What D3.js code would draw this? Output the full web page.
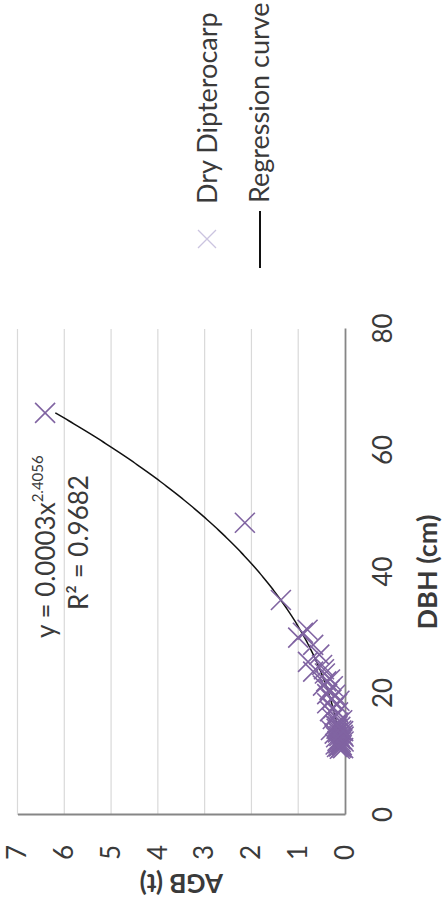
<!DOCTYPE html>
<html>
<head>
<meta charset="utf-8">
<script src="https://cdn.jsdelivr.net/npm/d3@7/dist/d3.min.js"></script>
<style>
  html, body { margin: 0; padding: 0; background: #ffffff; }
  svg { display: block; }
  text { font-family: Lato, "Open Sans", sans-serif; fill: #3a3a3a; }
</style>
</head>
<body>
<svg id="chart" width="445" height="910"></svg>
<script>
// Diameter at breast height (cm) of sampled trees
const dbh = [66.2, 48.1, 35.4, 30.0, 29.2, 30.5, 28.0, 26.4, 25.2, 24.7,
             23.6, 23.3, 22.3, 21.3, 21.2, 19.9, 19.8, 18.4, 18.3, 17.1,
             16.9, 15.8, 15.6, 14.8, 14.5, 14.0, 13.6, 13.2, 12.8, 12.5,
             12.1, 11.8, 11.5, 11.2, 11.0, 16.3, 17.6, 19.0, 20.6, 13.9,
             15.2, 12.0, 11.1, 22.0, 24.0, 18.8, 13.0, 14.2, 11.4, 12.4,
             11.6, 12.9, 13.4, 14.6, 11.3, 12.2, 10.9, 13.8];
// Above-ground biomass (t) for the same trees
const agb = [6.41, 2.14, 1.37, 0.90, 1.00, 0.80, 0.68, 0.55, 0.79, 0.49,
             0.68, 0.43, 0.32, 0.47, 0.26, 0.38, 0.21, 0.38, 0.17, 0.32,
             0.15, 0.26, 0.06, 0.21, 0.10, 0.30, 0.15, 0.05, 0.19, 0.10,
             0.03, 0.14, 0.07, 0.17, 0.04, 0.22, 0.25, 0.29, 0.33, 0.08,
             0.14, 0.09, 0.08, 0.40, 0.45, 0.12, 0.12, 0.18, 0.11, 0.06,
             0.20, 0.03, 0.22, 0.16, 0.13, 0.16, 0.11, 0.04];

const xTicks = [0, 20, 40, 60, 80];
const yTicks = [0, 1, 2, 3, 4, 5, 6, 7];

// Power regression AGB = a * DBH^b
const coefA = 0.000258;
const expoB = 2.4056;
const rSquared = 0.9682;

const seriesName = "Dry Dipterocarp";
const curveName = "Regression curve";
const xTitle = "DBH (cm)";
const yTitle = "AGB (t)";

const purple = "#8064a2";

const svg = d3.select("#chart");
// The chart is laid out in a 910 x 445 frame and turned a quarter turn.
const g = svg.append("g").attr("transform", "translate(0,910) rotate(-90)");

const x = d3.scaleLinear().domain([0, 80]).range([95, 581]);
const y = d3.scaleLinear().domain([0, 7]).range([345, 17.5]);

// Horizontal gridlines
g.append("g")
  .selectAll("line")
  .data(yTicks.filter(d => d > 0))
  .join("line")
  .attr("x1", x(0)).attr("x2", x(80))
  .attr("y1", d => y(d)).attr("y2", d => y(d))
  .attr("stroke", "#d9d9d9").attr("stroke-width", 1.2);

// X axis
const xAxis = g.append("g")
  .attr("transform", `translate(0,${y(0)})`)
  .call(d3.axisBottom(x).tickValues(xTicks).tickSize(0).tickPadding(0).tickFormat(d3.format("d")));
xAxis.select(".domain").attr("stroke", "#868686").attr("stroke-width", 1.8);
xAxis.selectAll("text")
  .attr("font-size", 26).attr("fill", "#3a3a3a")
  .attr("font-family", "Lato, sans-serif")
  .attr("y", 47).attr("dy", 0);

// Y axis
const yAxis = g.append("g")
  .attr("transform", `translate(${x(0)},0)`)
  .call(d3.axisLeft(y).tickValues(yTicks).tickSize(0).tickPadding(30).tickFormat(d3.format("d")));
yAxis.select(".domain").attr("stroke", "#868686").attr("stroke-width", 1.8);
yAxis.selectAll("text")
  .attr("font-size", 26).attr("fill", "#3a3a3a")
  .attr("font-family", "Lato, sans-serif");

// Axis titles
g.append("text")
  .attr("x", (x(0) + x(80)) / 2).attr("y", 437)
  .attr("text-anchor", "middle")
  .attr("font-size", 27).attr("font-weight", "bold")
  .text(xTitle);

g.append("text")
  .attr("transform", `translate(36,${(y(0) + y(7)) / 2}) rotate(-90)`)
  .attr("text-anchor", "middle")
  .attr("font-size", 26).attr("font-weight", "bold")
  .text(yTitle);

// Regression curve over the observed DBH range
const xMin = d3.min(dbh), xMax = d3.max(dbh);
const curvePts = d3.range(xMin, xMax, 0.25).concat([xMax])
  .map(v => [v, coefA * Math.pow(v, expoB)]);
g.append("path")
  .datum(curvePts)
  .attr("fill", "none")
  .attr("stroke", "#111111")
  .attr("stroke-width", 1.5)
  .attr("d", d3.line().x(d => x(d[0])).y(d => y(d[1])));

// Cross markers
const cross = (s) => `M${-s},${-s}L${s},${s}M${-s},${s}L${s},${-s}`;
g.append("g")
  .selectAll("path")
  .data(dbh.map((d, i) => [d, agb[i]]))
  .join("path")
  .attr("transform", d => `translate(${x(d[0])},${y(d[1])})`)
  .attr("d", cross(10))
  .attr("fill", "none")
  .attr("stroke", purple)
  .attr("stroke-width", 1.6);

// Equation and R²
const eq = g.append("text")
  .attr("x", 272).attr("y", 55)
  .attr("font-size", 26);
eq.append("tspan").text(`y = ${coefA.toFixed(4)}x`);
eq.append("tspan").attr("font-size", 15).attr("dy", -12).text(expoB.toFixed(4));

g.append("text")
  .attr("x", 300).attr("y", 88)
  .attr("font-size", 26)
  .text(`R² = ${rSquared.toFixed(4)}`);

// Legend
const legend = g.append("g");
legend.append("path")
  .attr("transform", "translate(671,207)")
  .attr("d", cross(9))
  .attr("fill", "none")
  .attr("stroke", "#cbc4e0")
  .attr("stroke-width", 1.3);
legend.append("text")
  .attr("x", 706).attr("y", 217)
  .attr("font-size", 27)
  .text(seriesName);
legend.append("line")
  .attr("x1", 642).attr("x2", 699)
  .attr("y1", 260).attr("y2", 260)
  .attr("stroke", "#111111").attr("stroke-width", 2);
legend.append("text")
  .attr("x", 707).attr("y", 269)
  .attr("font-size", 27)
  .text(curveName);
</script>
</body>
</html>
